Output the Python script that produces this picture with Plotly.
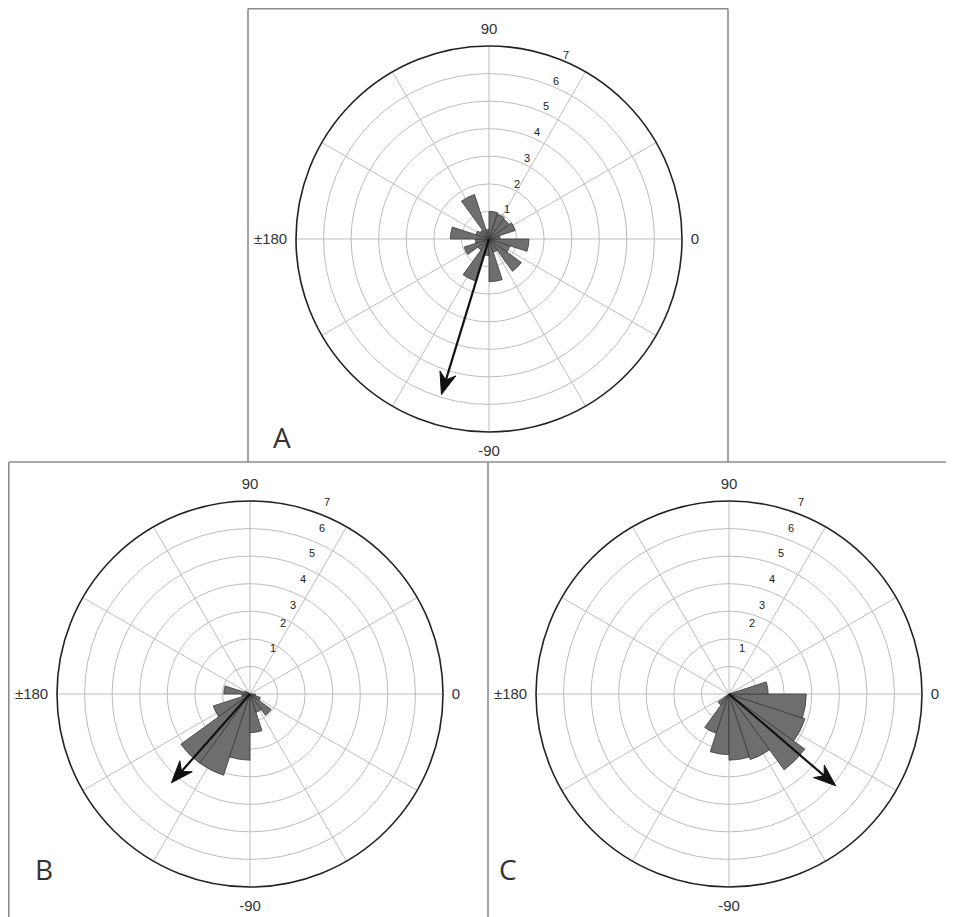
import math
import plotly.graph_objects as go

W, H = 954, 917
OFF = 8  # page body margin in the browser
FW, FH = W - OFF, H - OFF

# Bin centres (degrees), 18-degree bins, 0 = east, counter-clockwise
bin_centers = [-171, -153, -135, -117, -99, -81, -63, -45, -27, -9,
               9, 27, 45, 63, 81, 99, 117, 135, 153, 171]
bin_width = 18

counts_a = [0.5, 0.95, 0.5, 1.6, 0.6, 1.55, 0.5, 1.45, 0.8, 1.45,
            0.4, 1.0, 0.9, 0.95, 1.0, 0.35, 1.7, 0.4, 0.5, 1.4]
counts_b = [0.3, 1.4, 3.1, 3.1, 2.4, 1.4, 0.7, 0.95, 0.4, 0.2,
            0.0, 0.0, 0.0, 0.0, 0.0, 0.0, 0.0, 0.0, 0.2, 0.95]
counts_c = [0.0, 0.0, 0.5, 1.5, 2.2, 2.4, 2.5, 3.4, 2.9, 2.8,
            1.42, 0.0, 0.0, 0.0, 0.0, 0.0, 0.0, 0.0, 0.0, 0.0]

# Mean vectors (angle in degrees, length)
mean_angle = {"A": -107.0, "B": -131.5, "C": -40.7}
mean_len = {"A": 5.9, "B": 4.3, "C": 5.1}

panel_counts = {"A": counts_a, "B": counts_b, "C": counts_c}

ang_vals = [0, 30, 60, 90, 120, 150, 180, 210, 240, 270, 300, 330]
ang_text = ["0", "", "", "90", "", "", "\u00b1180", "", "", "-90", "", ""]
r_ticks = [1, 2, 3, 4, 5, 6, 7]
r_max = 7

# panel centres and outer radius in page pixels
centers = {"A": (489, 239), "B": (250, 694), "C": (729, 694)}
R_PX = 193


def fx(x):
    return (x - OFF) / FW


def fy(y):
    return 1 - (y - OFF) / FH


def px_dom(cx, cy, r):
    return dict(x=[fx(cx - r), fx(cx + r)], y=[fy(cy + r), fy(cy - r)])


polar_names = {"A": "polar", "B": "polar2", "C": "polar3"}


def arrow_head(ang, length, head_len=0.8, half_w=0.3, notch=0.55):
    """Barbed arrowhead outline (in polar coords) for a vector of given angle/length."""
    a = math.radians(ang)
    ux, uy = math.cos(a), math.sin(a)
    px_, py_ = -uy, ux
    tx, ty = length * ux, length * uy
    pts = [(tx, ty),
           (tx - head_len * ux + half_w * px_, ty - head_len * uy + half_w * py_),
           (tx - notch * ux, ty - notch * uy),
           (tx - head_len * ux - half_w * px_, ty - head_len * uy - half_w * py_),
           (tx, ty)]
    rr = [math.hypot(x, y) for x, y in pts]
    tt = [math.degrees(math.atan2(y, x)) for x, y in pts]
    return rr, tt


fig = go.Figure()

for key in ["A", "B", "C"]:
    sub = polar_names[key]
    fig.add_trace(go.Barpolar(
        theta=bin_centers, r=panel_counts[key], width=bin_width,
        marker=dict(color="#6e6e6e", line=dict(color="#3a3a3a", width=0.8)),
        subplot=sub, showlegend=False))
    shaft_end = mean_len[key] - 0.5
    fig.add_trace(go.Scatterpolar(
        theta=[mean_angle[key], mean_angle[key]], r=[0, shaft_end],
        mode="lines", line=dict(color="#111111", width=2.2),
        subplot=sub, showlegend=False, hoverinfo="skip"))
    hr, ht = arrow_head(mean_angle[key], mean_len[key])
    fig.add_trace(go.Scatterpolar(
        theta=ht, r=hr, mode="lines", fill="toself", fillcolor="#111111",
        line=dict(color="#111111", width=1),
        subplot=sub, showlegend=False, hoverinfo="skip"))

polar_common = dict(
    bgcolor="rgba(0,0,0,0)",
    angularaxis=dict(rotation=0, direction="counterclockwise",
                     tickmode="array", tickvals=ang_vals, ticktext=ang_text,
                     ticks="outside", ticklen=5, tickcolor="rgba(0,0,0,0)",
                     showline=True, linecolor="#222222", linewidth=1.6,
                     gridcolor="#bdbdbd", gridwidth=1,
                     tickfont=dict(family="Liberation Sans, Arial", size=15, color="#333333")),
    radialaxis=dict(range=[0, r_max], angle=60, tickmode="array", tickvals=r_ticks,
                    ticks="", showline=False, showticklabels=False,
                    gridcolor="#bdbdbd", gridwidth=1.2),
)

for key in ["A", "B", "C"]:
    cx, cy = centers[key]
    fig.update_layout({polar_names[key]: dict(domain=px_dom(cx, cy, R_PX), **polar_common)})
    # radial tick labels, upright, just counter-clockwise of the 60-degree spoke
    unit = R_PX / r_max
    lab_ang = math.radians(69)
    for v in r_ticks:
        rr = v * unit
        fig.add_annotation(x=fx(cx + 8 + rr * math.cos(lab_ang)),
                           y=fy(cy - 12 - rr * math.sin(lab_ang)),
                           xref="paper", yref="paper", text=str(v), showarrow=False,
                           font=dict(family="Liberation Sans, Arial", size=11, color="#222222"))

border = "#8c8c8c"


def line(x0, y0, x1, y1):
    fig.add_shape(type="line", xref="paper", yref="paper",
                  x0=fx(x0), y0=fy(y0), x1=fx(x1), y1=fy(y1),
                  line=dict(color=border, width=1.6))


line(248, 8.8, 728, 8.8)
line(248, 8.8, 248, 462)
line(728, 8.8, 728, 462)
line(8.8, 462, 954, 462)
line(8.8, 462, 8.8, 917)
line(488, 462, 488, 917)

for lab, (x, y) in {"A": (271, 437), "B": (33, 890), "C": (508, 890)}.items():
    fig.add_annotation(x=fx(x), y=fy(y), xref="paper", yref="paper",
                       text=lab, showarrow=False,
                       font=dict(family="Open Sans, Liberation Sans", size=28, color="#333333"))

fig.update_layout(width=FW, height=FH, margin=dict(l=0, r=0, t=0, b=0),
                  paper_bgcolor="white", plot_bgcolor="white")

fig.write_html("out.html")
